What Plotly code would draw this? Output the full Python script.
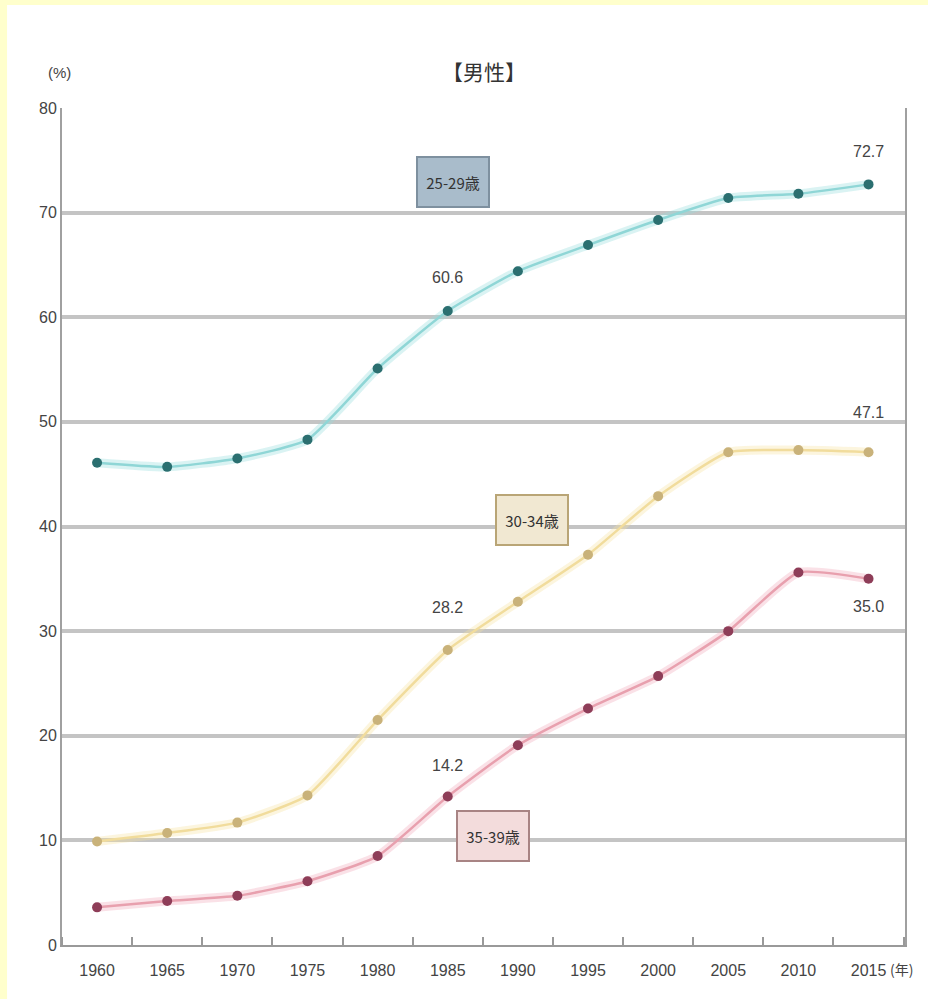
import plotly.graph_objects as go

# 男性の年齢別未婚率（%）
years = [1960, 1965, 1970, 1975, 1980, 1985, 1990, 1995, 2000, 2005, 2010, 2015]
age_25_29 = [46.1, 45.7, 46.5, 48.3, 55.1, 60.6, 64.4, 66.9, 69.3, 71.4, 71.8, 72.7]
age_30_34 = [9.9, 10.7, 11.7, 14.3, 21.5, 28.2, 32.8, 37.3, 42.9, 47.1, 47.3, 47.1]
age_35_39 = [3.6, 4.2, 4.7, 6.1, 8.5, 14.2, 19.1, 22.6, 25.7, 30.0, 35.6, 35.0]

series_names = ["25-29歳", "30-34歳", "35-39歳"]
y_ticks = [0, 10, 20, 30, 40, 50, 60, 70, 80]

FONT = "Liberation Sans Narrow, Liberation Sans, Arial"
CJK = "Noto Sans CJK JP"

styles = [
    dict(line="#8fd6d6", glow="rgba(150,220,220,0.35)", marker="#2b6f70"),
    dict(line="#f1dc9c", glow="rgba(245,225,160,0.35)", marker="#c9b27a"),
    dict(line="#e8a0ae", glow="rgba(240,170,185,0.35)", marker="#8e3d58"),
]

fig = go.Figure()
for name, vals, st in zip(series_names, [age_25_29, age_30_34, age_35_39], styles):
    # soft halo under each line
    fig.add_trace(go.Scatter(x=years, y=vals, mode="lines", line=dict(color=st["glow"], width=9, shape="spline", smoothing=0.5),
                             hoverinfo="skip", showlegend=False))
    fig.add_trace(go.Scatter(x=years, y=vals, mode="lines+markers", name=name,
                             line=dict(color=st["line"], width=2.5, shape="spline", smoothing=0.5),
                             marker=dict(color=st["marker"], size=10, symbol="circle"),
                             showlegend=False))

# value labels
value_labels = [
    (2015, age_25_29[-1], 33),
    (1985, age_25_29[5], 33),
    (2015, age_30_34[-1], 40),
    (1985, age_30_34[5], 42),
    (1985, age_35_39[5], 31),
    (2015, age_35_39[-1], -28),
]
for x, y, dy in value_labels:
    fig.add_annotation(x=x, y=y, text=f"{y:.1f}", showarrow=False, yshift=dy,
                       font=dict(family=FONT, size=16, color="#444444"))

# series name boxes
boxes = [
    (1985.4, 72.9, series_names[0], "#a9bccb", "#7e909f"),
    (1991.0, 40.6, series_names[1], "#f1e8d2", "#b9a576"),
    (1988.2, 10.4, series_names[2], "#f3dcdc", "#a88484"),
]
for x, y, t, bg, bd in boxes:
    fig.add_annotation(x=x, y=y, text=t, showarrow=False, bgcolor=bg, bordercolor=bd,
                       borderwidth=2, borderpad=4, width=62, height=40,
                       font=dict(family=CJK, size=15, color="#333333"))

fig.add_annotation(xref="paper", yref="paper", x=0.5, y=1.0, yshift=54, text="【男性】", showarrow=False,
                   font=dict(family=CJK, size=21, color="#333333"))
fig.add_annotation(xref="paper", yref="paper", x=0, y=1.0, xshift=-16, yshift=46, text="(%)", showarrow=False,
                   font=dict(family=FONT, size=15, color="#444444"))
fig.add_annotation(xref="paper", yref="paper", x=1.0, y=0, xshift=10, yshift=-36, text="(年)", showarrow=False,
                   font=dict(family=CJK, size=14, color="#444444"))

# white sheet over the yellow page edge
fig.add_shape(type="rect", xref="paper", yref="paper", x0=-0.0652, x1=1.1, y0=-0.1, y1=1.1231,
              fillcolor="white", line=dict(width=0), layer="below")

fig.update_layout(
    width=928, height=999,
    margin=dict(l=62, r=23, t=108, b=54),
    paper_bgcolor="#ffffcc",
    plot_bgcolor="white",
    xaxis=dict(range=[1957.5, 2017.6], tickmode="array", tickvals=years, ticktext=[str(y) for y in years],
               ticks="", showgrid=False, zeroline=False, showline=True, linecolor="#999999", linewidth=2,
               ticklabelstandoff=10,
               tickfont=dict(family=FONT, size=16, color="#444444"),
               minor=dict(tick0=1962.5, dtick=5, ticks="inside", ticklen=8, tickcolor="#999999", tickwidth=2,
                          showgrid=False)),
    yaxis=dict(range=[0, 80], tickmode="array", tickvals=y_ticks, ticks="", showgrid=True,
               gridcolor="#c4c4c4", gridwidth=4, zeroline=False, showline=True, mirror=True,
               linecolor="#a0a0a0", linewidth=2,
               tickfont=dict(family=FONT, size=16, color="#444444")),
)

fig.write_html("out.html")
